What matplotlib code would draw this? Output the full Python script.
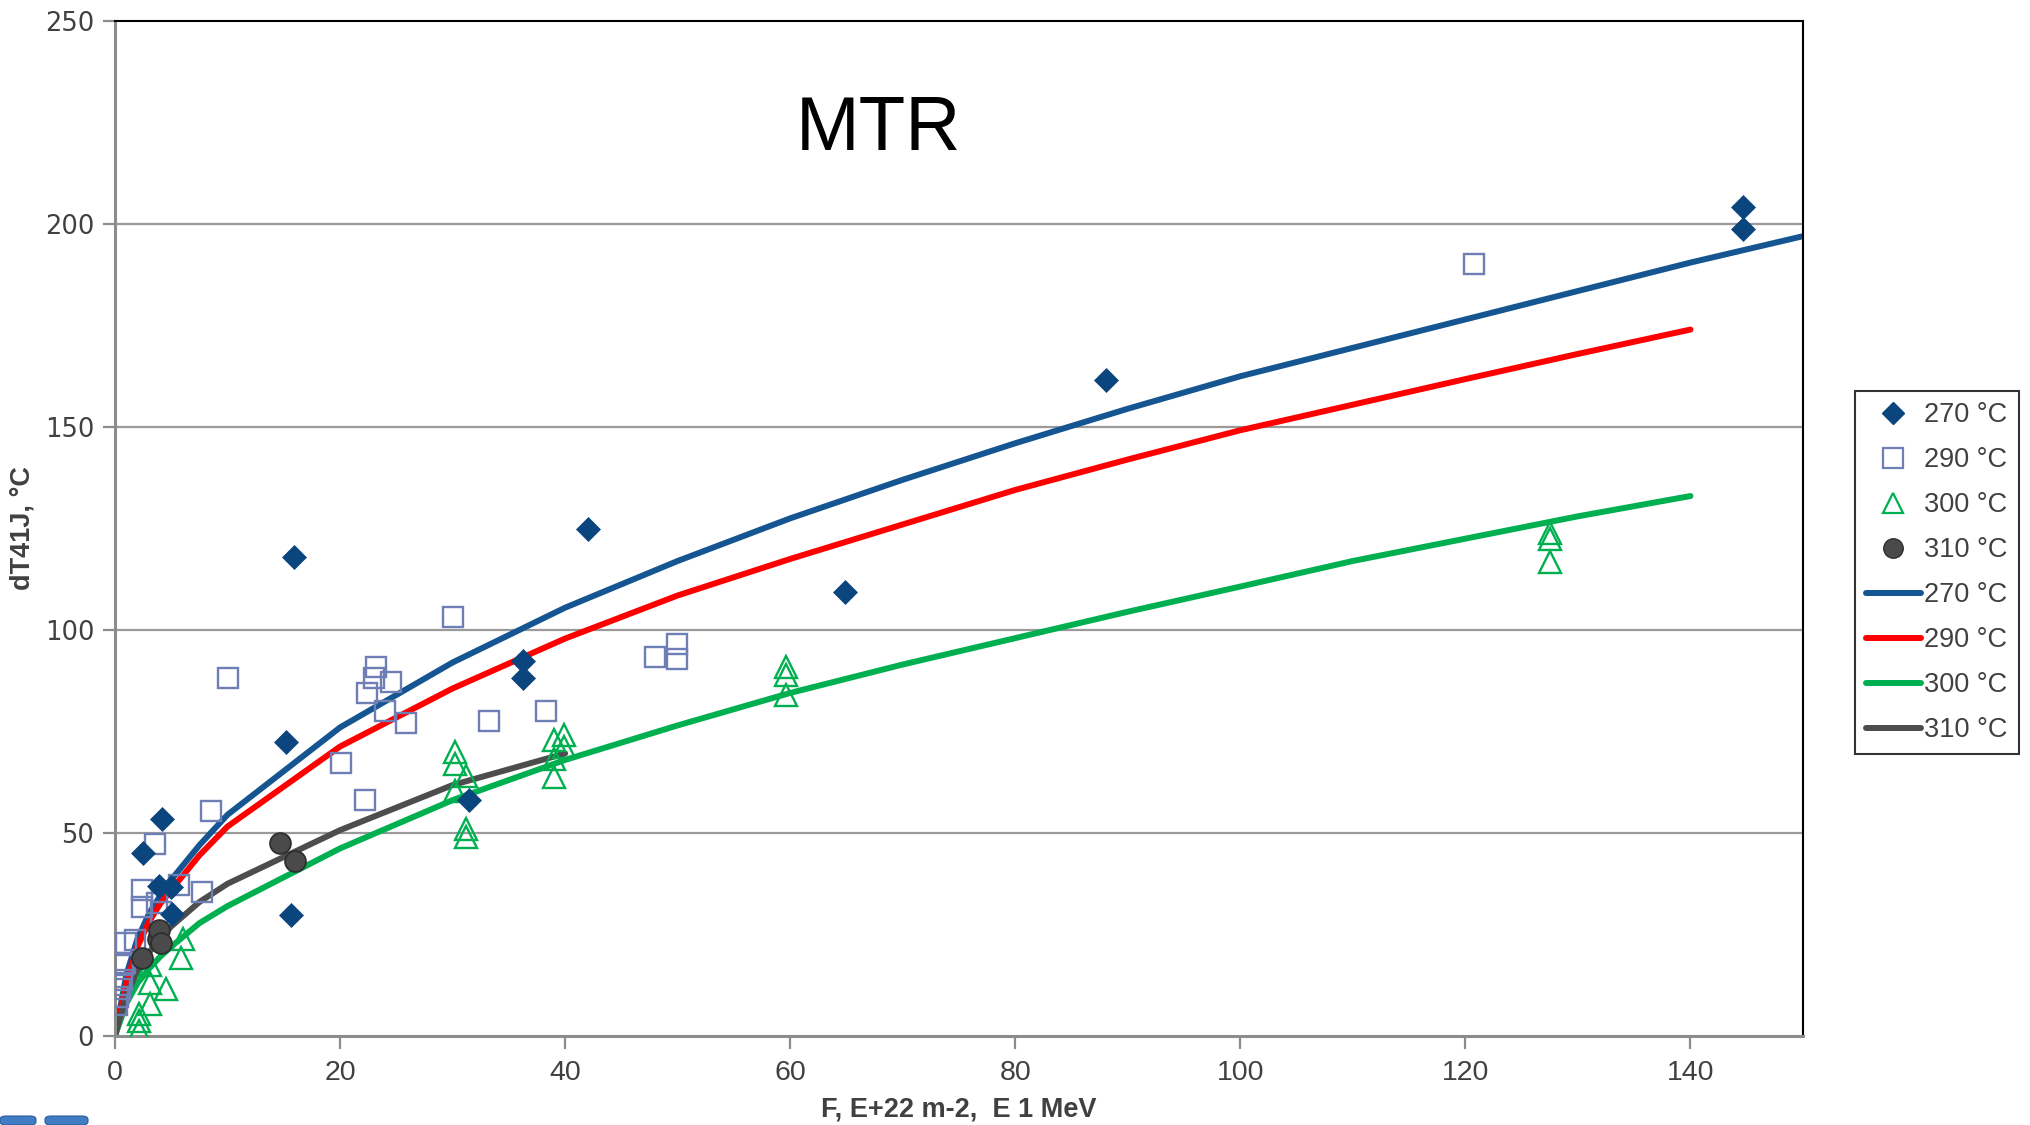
import matplotlib
matplotlib.use("Agg")
import matplotlib.pyplot as plt
from matplotlib.lines import Line2D
from matplotlib.patches import FancyBboxPatch
from matplotlib import font_manager

# ---------------- data ----------------
# measured points  (fluence F, E+22 m-2 ; shift dT41J, degC)
f270 = [2.5, 4.15, 3.9, 5.0, 5.1, 15.2, 15.9, 15.6, 31.5, 36.3, 36.3, 42.0, 64.9, 88.1, 144.7, 144.7]
t270 = [45.0, 53.4, 37.0, 36.8, 30.0, 72.5, 118.1, 29.8, 58.1, 92.4, 88.1, 125.0, 109.3, 161.6, 204.1, 198.8]

f290 = [0.2, 0.3, 0.4, 0.6, 0.7, 0.9, 1.0, 1.8, 2.4, 2.4, 3.7, 4.1, 3.55, 5.7, 7.7, 8.5, 10.0,
        20.1, 22.2, 22.35, 23.0, 23.15, 23.95, 24.5, 25.9, 30.0, 33.2, 38.3, 48.0, 49.9, 49.9, 120.8]
t290 = [7.7, 9.6, 11.5, 13.7, 17.5, 18.0, 22.8, 23.6, 31.8, 36.0, 32.8, 30.5, 47.2, 37.2, 35.5, 55.3, 88.1,
        67.3, 58.1, 84.4, 88.1, 91.0, 80.1, 87.3, 77.2, 103.3, 77.6, 80.0, 93.4, 96.6, 92.9, 190.2]

f300 = [2.1, 2.1, 2.1, 3.1, 4.5, 3.1, 3.1, 5.9, 6.0,
        30.2, 30.2, 31.2, 30.2, 31.2, 31.2, 39.0, 39.9, 39.9, 39.0, 39.0,
        59.6, 59.6, 59.6, 127.5, 127.5, 127.5]
t300 = [1.3, 3.8, 5.5, 8.0, 11.5, 13.0, 17.5, 19.3, 24.0,
        70.0, 67.0, 64.0, 60.4, 51.0, 48.9, 72.9, 74.1, 71.3, 68.2, 63.7,
        91.0, 88.9, 84.0, 123.8, 122.3, 116.8]

f310 = [2.4, 3.85, 3.9, 4.1, 14.65, 16.0]
t310 = [19.1, 24.0, 26.1, 22.8, 47.5, 43.2]

# trend curves
fit_f_270 = [0, 1, 2, 3, 4, 5, 7.5, 10, 20, 30, 40, 50, 60, 70, 80, 90, 100, 110, 120, 130, 140, 150]
fit_270 = [0, 15, 24, 30, 34.5, 38.5, 47, 54.5, 76, 92, 105.5, 117, 127.5, 137, 146, 154.5, 162.5,
           169.5, 176.5, 183.5, 190.5, 197]
fit_f_290 = [0, 1, 2, 3, 4, 5, 7.5, 10, 20, 30, 40, 50, 60, 70, 80, 90, 100, 110, 120, 130, 140]
fit_290 = [0, 13, 22, 28, 32.5, 36, 44.5, 51.6, 71.3, 85.6, 97.9, 108.5, 117.5, 126, 134.5, 142,
           149.2, 155.5, 161.8, 168, 174]
fit_f_300 = [0, 1, 2, 3, 4, 5, 7.5, 10, 20, 30, 40, 50, 60, 70, 80, 90, 100, 110, 120, 130, 140]
fit_300 = [0, 8, 13, 16.5, 19.5, 22, 27.8, 32, 46.2, 58.1, 68, 76.5, 84.5, 91.5, 98, 104.5,
           110.7, 117, 122.5, 128, 133]
fit_f_310 = [0, 1, 2, 3, 4, 5, 7.5, 10, 20, 30, 40]
fit_310 = [0, 10, 16, 20.5, 24, 27, 33, 37.5, 50.7, 61.8, 69.6]

labels = ["270 °C", "290 °C", "300 °C", "310 °C"]
x_ticks = [0, 20, 40, 60, 80, 100, 120, 140]
y_ticks = [0, 50, 100, 150, 200, 250]

# ---------------- style ----------------
C_DIA = "#0A467D"
C_SQ = "#6E7FB5"
C_TRI = "#00B050"
C_CIR = "#4A4A4A"
C_L270 = "#155591"
C_L290 = "#FF0000"
C_L300 = "#00B050"
C_L310 = "#4D4D4D"
TXT = "#404040"

avail = {f.name for f in font_manager.fontManager.ttflist}
narrow = ["Liberation Sans Narrow", "Liberation Sans"] if "Liberation Sans Narrow" in avail else ["Liberation Sans"]
plt.rcParams["font.family"] = ["Liberation Sans", "DejaVu Sans"]

fig = plt.figure(figsize=(20.30, 11.25), dpi=100)
ax = fig.add_axes([115 / 2030, 1 - 1036 / 1125, (1803 - 115) / 2030, (1036 - 21) / 1125])

ax.set_xlim(0, 150)
ax.set_ylim(0, 250)

for y in y_ticks[1:-1]:
    ax.axhline(y, color="#9A9A9A", lw=1.6, zorder=0)

lw = 4.3
ax.plot(fit_f_270, fit_270, color=C_L270, lw=lw, solid_capstyle="round", zorder=2)
ax.plot(fit_f_290, fit_290, color=C_L290, lw=lw, solid_capstyle="round", zorder=2)
ax.plot(fit_f_300, fit_300, color=C_L300, lw=lw, solid_capstyle="round", zorder=2)
ax.plot(fit_f_310, fit_310, color=C_L310, lw=lw, solid_capstyle="round", zorder=2)

ax.plot(f290, t290, ls="none", marker="s", ms=14.5, mfc="none", mec=C_SQ, mew=1.7, zorder=3)
ax.plot(f300, t300, ls="none", marker="^", ms=16, mfc="none", mec=C_TRI, mew=1.7, zorder=3)
ax.plot(f270, t270, ls="none", marker="D", ms=12.5, mfc=C_DIA, mec=C_DIA, mew=0.5, zorder=4)
ax.plot(f310, t310, ls="none", marker="o", ms=15, mfc=C_CIR, mec="#2E2E2E", mew=1.3, zorder=4)

# frame
for s in ["top", "right"]:
    ax.spines[s].set_color("black")
    ax.spines[s].set_linewidth(1.5)
for s in ["left", "bottom"]:
    ax.spines[s].set_color("#8C8C8C")
    ax.spines[s].set_linewidth(2.2)

ax.set_xticks(x_ticks)
ax.set_yticks(y_ticks)
ax.tick_params(axis="both", direction="out", length=9, width=1.6, color="#8C8C8C")
ax.tick_params(axis="y", pad=6)
ax.tick_params(axis="x", pad=8)
for t in ax.get_yticklabels():
    t.set_fontsize(18.5)
    t.set_color(TXT)
    t.set_family(["DejaVu Sans"])
for t in ax.get_xticklabels():
    t.set_fontsize(20.5)
    t.set_color(TXT)
    t.set_family(narrow)

ax.set_xlabel("F, E+22 m-2,  E 1 MeV", fontsize=19.5, fontweight="bold", color=TXT, family=narrow, labelpad=8)
ax.set_ylabel("dT41J, °C", fontsize=19.5, fontweight="bold", color=TXT, family=narrow)
ax.yaxis.set_label_coords((36 - 115) / 1688, 0.5)

ax.text(67.8, 223, "MTR", fontsize=55, color="black", ha="center", va="center")

handles = [
    Line2D([], [], ls="none", marker="D", ms=11, mfc=C_DIA, mec=C_DIA),
    Line2D([], [], ls="none", marker="s", ms=14, mfc="none", mec=C_SQ, mew=1.6),
    Line2D([], [], ls="none", marker="^", ms=14, mfc="none", mec=C_TRI, mew=1.6),
    Line2D([], [], ls="none", marker="o", ms=14, mfc=C_CIR, mec="#2E2E2E"),
    Line2D([], [], color=C_L270, lw=lw, solid_capstyle="round"),
    Line2D([], [], color=C_L290, lw=lw, solid_capstyle="round"),
    Line2D([], [], color=C_L300, lw=lw, solid_capstyle="round"),
    Line2D([], [], color=C_L310, lw=lw, solid_capstyle="round"),
]
leg = fig.legend(handles, labels + labels, loc="upper left",
                 bbox_to_anchor=(1855 / 2030, 1 - 391 / 1125), bbox_transform=fig.transFigure,
                 fontsize=19.5, frameon=True, fancybox=False, edgecolor="black",
                 handlelength=2.0, handletextpad=0.12, labelspacing=0.70,
                 borderpad=0.42, borderaxespad=0)
leg.get_frame().set_linewidth(1.5)
for t in leg.get_texts():
    t.set_color(TXT)

# slide-navigation buttons in the lower-left corner
for x0, w in [(0, 36), (45, 43)]:
    fig.patches.append(FancyBboxPatch((x0 / 2030, 0), w / 2030, 9 / 1125,
                                      boxstyle="round,pad=0,rounding_size=0.003",
                                      transform=fig.transFigure, facecolor="#3F7CC4",
                                      edgecolor="#2A5E9E", lw=0.8))

fig.savefig("out.png", dpi=100, facecolor="white")
